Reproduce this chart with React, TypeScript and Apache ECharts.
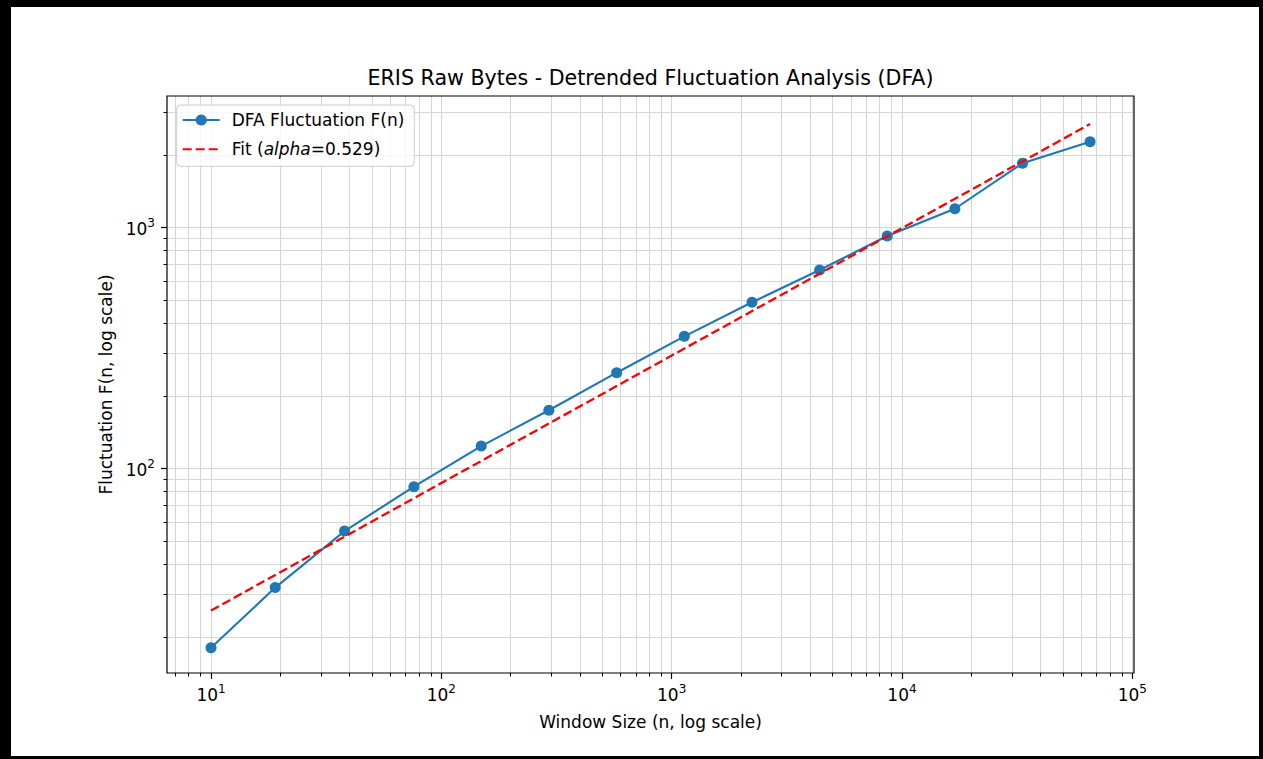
import React, { useEffect, useRef } from 'react';
import * as echarts from 'echarts';

// ---- data ----
const windowSizes = [10, 19, 38, 76, 149, 293, 577, 1135, 2232, 4389, 8629, 16966, 33357, 65536];
const fluctuation = [18.0, 32.0, 54.9, 83.9, 123.7, 174.1, 249.3, 352.9, 488.5, 665, 920, 1194, 1843, 2266];
const fitWindowSizes = [10, 65536];
const fitValues = [25.7, 2683];

const seriesName = 'DFA Fluctuation F(n)';
const fitName = 'Fit (alpha=0.529)';
const titleText = 'ERIS Raw Bytes - Detrended Fluctuation Analysis (DFA)';
const xAxisTitle = 'Window Size (n, log scale)';
const yAxisTitle = 'Fluctuation F(n, log scale)';

const xMajorTicks = [10, 100, 1000, 10000, 100000];
const xMinorTicks = [
  7, 8, 9,
  20, 30, 40, 50, 60, 70, 80, 90,
  200, 300, 400, 500, 600, 700, 800, 900,
  2000, 3000, 4000, 5000, 6000, 7000, 8000, 9000,
  20000, 30000, 40000, 50000, 60000, 70000, 80000, 90000,
];
const yMajorTicks = [100, 1000];
const yMinorTicks = [
  20, 30, 40, 50, 60, 70, 80, 90,
  200, 300, 400, 500, 600, 700, 800, 900,
  2000, 3000,
];
const xRange = [6.44, 101700];
const yRange = [14.15, 3506];

const FONT = 'DejaVu Sans';
const GRID_COLOR = '#d6d6d6';

const powLabel = (v: number) => {
  const e = Math.round(Math.log10(v));
  return '{b|10}{s|' + e + '}';
};
const powRich = {
  b: { fontSize: 17, fontFamily: FONT, color: '#000', lineHeight: 20, verticalAlign: 'bottom' },
  s: { fontSize: 12, fontFamily: FONT, color: '#000', lineHeight: 12, verticalAlign: 'top' },
};

export default function App() {
  const ref = useRef<HTMLDivElement>(null);
  useEffect(() => {
    if (!ref.current) return;
    const chart = echarts.init(ref.current, null, { renderer: 'svg' });
    const grid = { left: 156, right: 125, top: 89, bottom: 83 };
    const option: any = {
      animation: false,
      backgroundColor: '#fff',
      textStyle: { fontFamily: FONT },
      grid: { ...grid, show: true, borderColor: '#000', borderWidth: 1.2, backgroundColor: 'transparent', z: 10 },
      graphic: [
        {
          type: 'text',
          x: 639.5,
          y: 70.5,
          style: {
            text: titleText,
            fontSize: 20.6,
            fontFamily: FONT,
            fill: '#000',
            align: 'center',
            verticalAlign: 'middle',
          },
        },
      ],
      legend: {
        orient: 'vertical',
        left: 165.7,
        top: 98,
        padding: [5, 10, 7, 5],
        itemWidth: 37,
        itemHeight: 14,
        itemGap: 9.3,
        backgroundColor: 'rgba(255,255,255,0.8)',
        borderColor: '#cccccc',
        borderWidth: 1,
        borderRadius: 4,
        data: [
          { name: seriesName },
          { name: fitName, itemStyle: { opacity: 0, color: 'rgba(0,0,0,0)', borderWidth: 0 } },
        ],
        formatter: (name: string) => (name === fitName ? 'Fit ({i|alpha}=0.529)' : name),
        textStyle: {
          fontSize: 17,
          fontFamily: FONT,
          color: '#000',
          lineHeight: 20,
          padding: [0, 0, 0, 7],
          rich: {
            i: { fontSize: 17, fontFamily: FONT, fontStyle: 'italic', color: '#000' },
          },
        },
      },
      xAxis: [
        {
          type: 'log',
          logBase: 10,
          min: xRange[0],
          max: xRange[1],
          name: xAxisTitle,
          nameLocation: 'middle',
          nameGap: 40,
          nameTextStyle: { fontSize: 17, fontFamily: FONT, color: '#000', verticalAlign: 'top' },
          axisLine: { show: false },
          axisTick: { show: true, length: 6, customValues: xMajorTicks, lineStyle: { color: '#000', width: 1.2 } },
          axisLabel: { customValues: xMajorTicks, formatter: powLabel, rich: powRich, margin: 10, color: '#000' },
          splitLine: { show: true, lineStyle: { color: GRID_COLOR, width: 1 } },
          minorTick: { show: false },
          minorSplitLine: { show: false },
        },
        {
          type: 'log',
          logBase: 10,
          min: xRange[0],
          max: xRange[1],
          position: 'bottom',
          axisLine: { show: false },
          axisTick: { show: true, length: 3.5, customValues: xMinorTicks, lineStyle: { color: '#000', width: 1 } },
          axisLabel: { show: false },
          splitLine: { show: true, lineStyle: { color: GRID_COLOR, width: 1 } },
        },
      ],
      yAxis: [
        {
          type: 'log',
          logBase: 10,
          min: yRange[0],
          max: yRange[1],
          name: yAxisTitle,
          nameLocation: 'middle',
          nameGap: 53,
          nameRotate: 90,
          nameTextStyle: { fontSize: 17, fontFamily: FONT, color: '#000' },
          axisLine: { show: false },
          axisTick: { show: true, length: 6, customValues: yMajorTicks, lineStyle: { color: '#000', width: 1.2 } },
          axisLabel: { customValues: yMajorTicks, formatter: powLabel, rich: powRich, margin: 12, color: '#000' },
          splitLine: { show: true, lineStyle: { color: GRID_COLOR, width: 1 } },
        },
        {
          type: 'log',
          logBase: 10,
          min: yRange[0],
          max: yRange[1],
          position: 'left',
          axisLine: { show: false },
          axisTick: { show: true, length: 3.5, customValues: yMinorTicks, lineStyle: { color: '#000', width: 1 } },
          axisLabel: { show: false },
          splitLine: { show: true, lineStyle: { color: GRID_COLOR, width: 1 } },
        },
      ],
      series: [
        {
          name: seriesName,
          type: 'line',
          xAxisIndex: 0,
          yAxisIndex: 0,
          data: windowSizes.map((x, i) => [x, fluctuation[i]]),
          symbol: 'circle',
          symbolSize: 11,
          showSymbol: true,
          lineStyle: { color: '#1f77b4', width: 2.1 },
          itemStyle: { color: '#1f77b4' },
          z: 3,
        },
        {
          name: fitName,
          type: 'line',
          xAxisIndex: 0,
          yAxisIndex: 0,
          data: fitWindowSizes.map((x, i) => [x, fitValues[i]]),
          symbol: 'none',
          lineStyle: { color: '#ff0000', width: 2.3, type: [9, 4] },
          itemStyle: { color: '#ff0000' },
          z: 4,
        },
      ],
    };
    chart.setOption(option);
    return () => chart.dispose();
  }, []);

  return (
    <div style={{ position: 'fixed', left: 0, top: 0, width: 1263, height: 759, background: '#000' }}>
      <div style={{ position: 'absolute', left: 11, top: 7, width: 1248, height: 749, background: '#fff' }}>
        <div ref={ref} style={{ width: 1248, height: 749 }} />
      </div>
    </div>
  );
}
